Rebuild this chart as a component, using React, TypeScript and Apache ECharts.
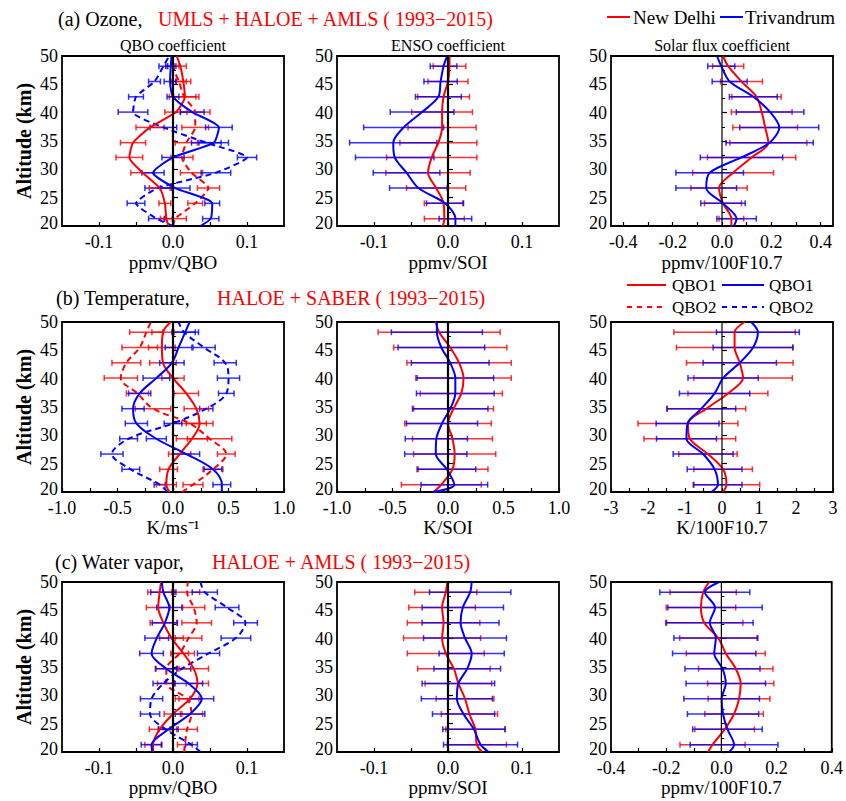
import React, { useEffect, useRef } from 'react';
import * as echarts from 'echarts';

const FONT = 'Liberation Serif, Times New Roman, serif';
const RED = '#ff0000';
const BLUE = '#0000ff';
const RED_ERR = 'rgba(255,0,0,0.8)';
const BLUE_ERR = 'rgba(0,0,255,0.8)';

// altitude levels (km); error bars are drawn at LEVELS[1..11]
const LEVELS = [20, 21.3, 24.0, 26.7, 29.4, 32.1, 34.7, 37.4, 40.1, 42.8, 45.5, 48.2, 50];

// ---------- (a) Ozone ----------
const O3_QBO_ND1 = [-0.006, -0.009, -0.011, -0.018, -0.041, -0.059, -0.054, -0.031, 0.004, 0.016, 0.014, 0.010, 0.005];
const O3_QBO_ND1_ERR = [0.008, 0.008, 0.014, 0.016, 0.018, 0.017, 0.019, 0.015, 0.015, 0.010, 0.008];
const O3_QBO_TV1 = [0.037, 0.051, 0.053, 0.003, -0.027, 0.000, 0.055, 0.062, 0.026, 0.000, -0.004, -0.003, -0.002];
const O3_QBO_TV1_ERR = [0.011, 0.010, 0.020, 0.015, 0.015, 0.020, 0.018, 0.016, 0.008, 0.008, 0.007];
const O3_QBO_ND2 = [0.000, 0.003, 0.030, 0.048, 0.025, 0.012, 0.018, 0.030, 0.030, 0.015, 0.008, 0.000, 0.000];
const O3_QBO_ND2_ERR = [0.015, 0.010, 0.015, 0.015, 0.015, 0.015, 0.018, 0.020, 0.020, 0.010, 0.008];
const O3_QBO_TV2 = [0.000, -0.022, -0.050, -0.020, 0.058, 0.100, 0.045, -0.013, -0.054, -0.050, -0.025, -0.013, -0.005];
const O3_QBO_TV2_ERR = [0.011, 0.012, 0.018, 0.020, 0.013, 0.020, 0.018, 0.020, 0.010, 0.008, 0.006];

const O3_ENSO_ND = [-0.007, -0.005, -0.006, -0.016, -0.027, -0.022, -0.013, -0.008, -0.008, -0.006, 0.000, 0.002, 0.002];
const O3_ENSO_ND_ERR = [0.027, 0.026, 0.040, 0.057, 0.061, 0.052, 0.046, 0.041, 0.035, 0.027, 0.022];
const O3_ENSO_TV = [0.010, 0.010, -0.004, -0.040, -0.056, -0.072, -0.074, -0.060, -0.035, -0.013, -0.010, -0.006, -0.001];
const O3_ENSO_TV_ERR = [0.022, 0.025, 0.039, 0.045, 0.053, 0.059, 0.054, 0.043, 0.031, 0.0225, 0.018];

const O3_SF_ND = [0.038, 0.038, 0.004, -0.012, 0.045, 0.120, 0.188, 0.175, 0.161, 0.140, 0.079, 0.025, 0.004];
const O3_SF_ND_ERR = [0.050, 0.075, 0.114, 0.164, 0.179, 0.156, 0.131, 0.123, 0.100, 0.085, 0.063];
const O3_SF_TV = [0.048, 0.059, 0.004, -0.064, -0.050, 0.079, 0.193, 0.232, 0.195, 0.127, 0.031, -0.003, -0.020];
const O3_SF_TV_ERR = [0.080, 0.090, 0.123, 0.137, 0.167, 0.177, 0.160, 0.137, 0.097, 0.071, 0.055];

// ---------- (b) Temperature ----------
const T_QBO_ND1 = [-0.03, -0.06, -0.04, 0.06, 0.17, 0.24, 0.21, 0.12, 0.0, -0.09, -0.10, -0.09, -0.02];
const T_QBO_ND1_ERR = [0.09, 0.08, 0.10, 0.14, 0.12, 0.11, 0.11, 0.10, 0.12, 0.12, 0.10];
const T_QBO_TV1 = [0.44, 0.44, 0.36, 0.12, -0.15, -0.33, -0.36, -0.30, -0.15, -0.01, 0.05, 0.11, 0.15];
const T_QBO_TV1_ERR = [0.08, 0.08, 0.12, 0.09, 0.10, 0.10, 0.10, 0.12, 0.11, 0.12, 0.12];
const T_QBO_ND2 = [0.08, 0.18, 0.36, 0.48, 0.33, 0.15, -0.18, -0.32, -0.47, -0.42, -0.30, -0.24, -0.20];
const T_QBO_ND2_ERR = [0.09, 0.09, 0.08, 0.20, 0.15, 0.16, 0.10, 0.15, 0.13, 0.16, 0.15];
const T_QBO_TV2 = [-0.05, -0.12, -0.38, -0.55, -0.40, 0.0, 0.30, 0.48, 0.50, 0.47, 0.28, 0.10, 0.05];
const T_QBO_TV2_ERR = [0.05, 0.08, 0.10, 0.08, 0.08, 0.06, 0.07, 0.10, 0.10, 0.10, 0.10];

const T_ENSO_ND = [-0.13, -0.06, 0.04, 0.06, 0.04, 0.0, 0.05, 0.12, 0.14, 0.10, 0.02, -0.08, -0.11];
const T_ENSO_ND_ERR = [0.36, 0.32, 0.37, 0.36, 0.39, 0.36, 0.37, 0.43, 0.47, 0.51, 0.55];
const T_ENSO_TV = [-0.135, 0.057, -0.01, -0.11, -0.105, -0.054, 0.02, 0.066, 0.066, 0.02, -0.06, -0.10, -0.10];
const T_ENSO_TV_ERR = [0.30, 0.26, 0.28, 0.28, 0.32, 0.34, 0.35, 0.345, 0.35, 0.39, 0.41];

const T_SF_ND = [0.03, 0.12, 0.03, -0.38, -0.87, -0.92, -0.42, 0.16, 0.57, 0.48, 0.34, 0.34, 0.61];
const T_SF_ND_ERR = [0.90, 0.79, 0.79, 1.24, 1.35, 1.06, 1.08, 1.33, 1.44, 1.57, 1.64];
const T_SF_TV = [-0.29, -0.11, -0.20, -0.51, -0.96, -0.93, -0.56, -0.20, 0.03, 0.48, 0.84, 0.97, 0.79];
const T_SF_TV_ERR = [0.65, 0.74, 0.81, 0.81, 0.85, 0.93, 0.95, 0.95, 0.99, 1.08, 1.12];

// ---------- (c) Water vapor ----------
const W_QBO_ND1 = [-0.027, -0.027, -0.018, 0.0, 0.023, 0.033, 0.028, 0.014, -0.002, -0.013, -0.020, -0.018, -0.016];
const W_QBO_ND1_ERR = [0.011, 0.014, 0.012, 0.015, 0.015, 0.020, 0.015, 0.016, 0.018, 0.016, 0.016];
const W_QBO_TV1 = [-0.028, -0.029, -0.006, 0.023, 0.039, 0.021, -0.009, -0.029, -0.022, -0.011, -0.005, -0.013, -0.015];
const W_QBO_TV1_ERR = [0.014, 0.013, 0.020, 0.016, 0.019, 0.014, 0.016, 0.016, 0.017, 0.017, 0.017];
const W_QBO_ND2 = [0.015, 0.016, 0.019, 0.025, 0.019, -0.009, -0.009, 0.009, 0.021, 0.032, 0.028, 0.019, 0.020];
const W_QBO_ND2_ERR = [0.010, 0.014, 0.015, 0.016, 0.012, 0.015, 0.012, 0.018, 0.020, 0.015, 0.017];
const W_QBO_TV2 = [0.037, 0.025, -0.010, -0.031, -0.029, -0.013, 0.012, 0.048, 0.085, 0.098, 0.073, 0.043, 0.037];
const W_QBO_TV2_ERR = [0.008, 0.010, 0.013, 0.015, 0.014, 0.012, 0.015, 0.020, 0.016, 0.016, 0.017];

const W_ENSO_ND = [0.046, 0.039, 0.037, 0.029, 0.023, 0.014, 0.008, -0.003, -0.008, -0.006, -0.008, -0.003, -0.001];
const W_ENSO_ND_ERR = [0.040, 0.040, 0.038, 0.039, 0.045, 0.049, 0.052, 0.052, 0.049, 0.045, 0.042];
const W_ENSO_TV = [0.055, 0.044, 0.035, 0.021, 0.012, 0.014, 0.026, 0.032, 0.023, 0.017, 0.020, 0.030, 0.032];
const W_ENSO_TV_ERR = [0.050, 0.042, 0.042, 0.048, 0.049, 0.045, 0.044, 0.056, 0.052, 0.055, 0.055];

const W_SF_ND = [-0.048, -0.032, 0.012, 0.046, 0.064, 0.070, 0.052, 0.016, -0.011, -0.062, -0.074, -0.066, -0.044];
const W_SF_ND_ERR = [0.118, 0.108, 0.106, 0.112, 0.120, 0.135, 0.143, 0.140, 0.140, 0.126, 0.120];
const W_SF_TV = [0.028, 0.046, 0.022, 0.006, 0.001, 0.016, 0.004, -0.026, -0.020, -0.042, -0.023, -0.060, -0.008];
const W_SF_TV_ERR = [0.159, 0.126, 0.129, 0.137, 0.144, 0.136, 0.151, 0.152, 0.157, 0.171, 0.163];

// ---------- axis tick labels ----------
const X_LABELS_SMALL = [-0.1, 0, 0.1];
const X_TICKS_SMALL = [-0.1, -0.05, 0, 0.05, 0.1];
const X_LABELS_04 = [-0.4, -0.2, 0, 0.2, 0.4];
const X_TICKS_04 = [-0.4, -0.3, -0.2, -0.1, 0, 0.1, 0.2, 0.3, 0.4];
const X_LABELS_1 = [-1, -0.5, 0, 0.5, 1];
const X_TICKS_1 = [-1, -0.75, -0.5, -0.25, 0, 0.25, 0.5, 0.75, 1];
const X_LABELS_3 = [-3, -2, -1, 0, 1, 2, 3];
const X_TICKS_3 = [-3, -2.5, -2, -1.5, -1, -0.5, 0, 0.5, 1, 1.5, 2, 2.5, 3];

const COL_LEFT = [62, 337, 611];
const ROW_TOP = [56, 322, 582];
const ROW_NAME_GAP = [27, 26, 24];
const PW = 222;
const PH = 170;
const TICK_FS = 18;

const fmt1 = (v: number) => v.toFixed(1);
const fmt0 = (v: number) => String(Math.round(v));

type Ser = { vals: number[]; err: number[]; color: string; errColor: string; dashed?: boolean };
type Panel = {
  row: number; col: number; min: number; max: number;
  labels: number[]; ticks: number[]; fmt: (v: number) => string;
  name: string; zeroW: number; smooth: number; series: Ser[];
};

const nd = (vals: number[], err: number[], dashed = false): Ser => ({ vals, err, color: RED, errColor: RED_ERR, dashed });
const tv = (vals: number[], err: number[], dashed = false): Ser => ({ vals, err, color: BLUE, errColor: BLUE_ERR, dashed });

const PANELS: Panel[] = [
  { row: 0, col: 0, min: -0.15, max: 0.15, labels: X_LABELS_SMALL, ticks: X_TICKS_SMALL, fmt: fmt1, name: 'ppmv/QBO', zeroW: 2.2, smooth: 0.2,
    series: [nd(O3_QBO_ND2, O3_QBO_ND2_ERR, true), tv(O3_QBO_TV2, O3_QBO_TV2_ERR, true), nd(O3_QBO_ND1, O3_QBO_ND1_ERR), tv(O3_QBO_TV1, O3_QBO_TV1_ERR)] },
  { row: 0, col: 1, min: -0.15, max: 0.15, labels: X_LABELS_SMALL, ticks: X_TICKS_SMALL, fmt: fmt1, name: 'ppmv/SOI', zeroW: 2.2, smooth: 0.3,
    series: [nd(O3_ENSO_ND, O3_ENSO_ND_ERR), tv(O3_ENSO_TV, O3_ENSO_TV_ERR)] },
  { row: 0, col: 2, min: -0.45, max: 0.45, labels: X_LABELS_04, ticks: X_TICKS_04, fmt: fmt1, name: 'ppmv/100F10.7', zeroW: 1.2, smooth: 0.3,
    series: [nd(O3_SF_ND, O3_SF_ND_ERR), tv(O3_SF_TV, O3_SF_TV_ERR)] },
  { row: 1, col: 0, min: -1, max: 1, labels: X_LABELS_1, ticks: X_TICKS_1, fmt: fmt1, name: 'K/ms⁻¹', zeroW: 2.2, smooth: 0.35,
    series: [nd(T_QBO_ND2, T_QBO_ND2_ERR, true), tv(T_QBO_TV2, T_QBO_TV2_ERR, true), nd(T_QBO_ND1, T_QBO_ND1_ERR), tv(T_QBO_TV1, T_QBO_TV1_ERR)] },
  { row: 1, col: 1, min: -1, max: 1, labels: X_LABELS_1, ticks: X_TICKS_1, fmt: fmt1, name: 'K/SOI', zeroW: 2.2, smooth: 0.3,
    series: [nd(T_ENSO_ND, T_ENSO_ND_ERR), tv(T_ENSO_TV, T_ENSO_TV_ERR)] },
  { row: 1, col: 2, min: -3, max: 3, labels: X_LABELS_3, ticks: X_TICKS_3, fmt: fmt0, name: 'K/100F10.7', zeroW: 1.2, smooth: 0.3,
    series: [nd(T_SF_ND, T_SF_ND_ERR), tv(T_SF_TV, T_SF_TV_ERR)] },
  { row: 2, col: 0, min: -0.15, max: 0.15, labels: X_LABELS_SMALL, ticks: X_TICKS_SMALL, fmt: fmt1, name: 'ppmv/QBO', zeroW: 2.2, smooth: 0.3,
    series: [nd(W_QBO_ND2, W_QBO_ND2_ERR, true), tv(W_QBO_TV2, W_QBO_TV2_ERR, true), nd(W_QBO_ND1, W_QBO_ND1_ERR), tv(W_QBO_TV1, W_QBO_TV1_ERR)] },
  { row: 2, col: 1, min: -0.15, max: 0.15, labels: X_LABELS_SMALL, ticks: X_TICKS_SMALL, fmt: fmt1, name: 'ppmv/SOI', zeroW: 2.2, smooth: 0.3,
    series: [nd(W_ENSO_ND, W_ENSO_ND_ERR), tv(W_ENSO_TV, W_ENSO_TV_ERR)] },
  { row: 2, col: 2, min: -0.4, max: 0.4, labels: X_LABELS_04, ticks: X_TICKS_04, fmt: fmt1, name: 'ppmv/100F10.7', zeroW: 1.2, smooth: 0.3,
    series: [nd(W_SF_ND, W_SF_ND_ERR), tv(W_SF_TV, W_SF_TV_ERR)] },
];

function errRender(color: string) {
  return (_params: any, api: any) => {
    const y = api.value(2);
    const a = api.coord([api.value(0), y]);
    const b = api.coord([api.value(1), y]);
    const c = 3;
    const st = { stroke: color, lineWidth: 1.5 };
    return {
      type: 'group',
      children: [
        { type: 'line', shape: { x1: a[0], y1: a[1], x2: b[0], y2: b[1] }, style: st },
        { type: 'line', shape: { x1: a[0], y1: a[1] - c, x2: a[0], y2: a[1] + c }, style: st },
        { type: 'line', shape: { x1: b[0], y1: b[1] - c, x2: b[0], y2: b[1] + c }, style: st },
      ],
    };
  };
}

function txt(x: number, y: number, text: string, o: any = {}) {
  const align = o.align || 'left';
  return {
    type: 'text', x, y, rotation: o.rot || 0, z: 10,
    style: {
      text, fill: o.color || '#000', fontFamily: FONT, fontSize: o.size || 19,
      fontWeight: o.bold ? 'bold' : 'normal',
      align, textAlign: align, verticalAlign: 'middle', textVerticalAlign: 'middle',
    },
  };
}
function seg(x1: number, x2: number, y: number, color: string, dashed = false) {
  return {
    type: 'line', z: 10, shape: { x1, y1: y, x2, y2: y },
    style: { stroke: color, lineWidth: 2, lineDash: dashed ? [5, 5] : null },
  };
}

function buildOption() {
  const grid: any[] = [];
  const xAxis: any[] = [];
  const yAxis: any[] = [];
  const series: any[] = [];
  PANELS.forEach((p, i) => {
    grid.push({ left: COL_LEFT[p.col], top: ROW_TOP[p.row], width: PW, height: PH, show: true, borderColor: '#000', borderWidth: 1.8 });
    xAxis.push({
      type: 'value', gridIndex: i, min: p.min, max: p.max,
      name: p.name, nameLocation: 'middle', nameGap: ROW_NAME_GAP[p.row],
      nameTextStyle: { fontFamily: FONT, fontSize: 19, color: '#000', verticalAlign: 'top' },
      axisLine: { show: false },
      axisTick: { show: true, inside: true, length: 4, customValues: p.ticks, lineStyle: { color: '#000', width: 1.2 } },
      axisLabel: { customValues: p.labels, formatter: p.fmt, fontFamily: FONT, fontSize: TICK_FS, color: '#000', margin: 7 },
      splitLine: { show: false },
    });
    yAxis.push({
      type: 'value', gridIndex: i, min: 20, max: 50, interval: 5,
      axisLine: { show: false },
      axisTick: { show: true, inside: true, length: 5, lineStyle: { color: '#000', width: 1.2 } },
      minorTick: { show: true, splitNumber: 2, length: 3, lineStyle: { color: '#000', width: 1 } },
      axisLabel: {
        fontFamily: FONT, fontSize: TICK_FS, color: '#000', margin: 4,
        formatter: (v: number) => (v === 20 ? '{lo|20}' : String(v)),
        rich: { lo: { fontFamily: FONT, fontSize: TICK_FS, color: '#000', padding: [0, 0, 6, 0] } },
      },
      splitLine: { show: false },
      minorSplitLine: { show: false },
    });
    p.series.forEach((s) => {
      series.push({
        type: 'custom', xAxisIndex: i, yAxisIndex: i, renderItem: errRender(s.errColor),
        encode: { x: [0, 1], y: 2 }, silent: true,
        data: s.err.map((e, k) => [s.vals[k + 1] - e, s.vals[k + 1] + e, LEVELS[k + 1]]),
      });
    });
    p.series.forEach((s) => {
      series.push({
        type: 'line', xAxisIndex: i, yAxisIndex: i, symbol: 'none', smooth: p.smooth, silent: true,
        lineStyle: { color: s.color, width: 2, type: s.dashed ? [6, 4] : 'solid' },
        data: LEVELS.map((a, k) => [s.vals[k], a]),
      });
    });
    series.push({
      type: 'line', xAxisIndex: i, yAxisIndex: i, symbol: 'none', silent: true, z: 4,
      lineStyle: { color: '#000', width: p.zeroW },
      data: [[0, 20], [0, 50]],
    });
  });

  const graphic: any[] = [
    txt(58, 19, '(a) Ozone,', { size: 20 }),
    txt(158, 19, 'UMLS + HALOE + AMLS ( 1993−2015)', { size: 20, color: RED }),
    txt(56, 298, '(b) Temperature,', { size: 20 }),
    txt(217, 298, 'HALOE + SABER ( 1993−2015)', { size: 20, color: RED }),
    txt(55, 562, '(c) Water vapor,', { size: 20 }),
    txt(212, 562, 'HALOE + AMLS ( 1993−2015)', { size: 20, color: RED }),
    txt(173, 45, 'QBO coefficient', { size: 16, align: 'center' }),
    txt(448, 45, 'ENSO coefficient', { size: 16, align: 'center' }),
    txt(722, 45, 'Solar flux coefficient', { size: 16, align: 'center' }),
    seg(607, 630, 17, RED), txt(633, 17, 'New Delhi', { size: 19 }),
    seg(720, 743, 17, BLUE), txt(745, 17, 'Trivandrum', { size: 19 }),
    seg(627, 666, 285, RED), txt(672, 285, 'QBO1', { size: 17 }),
    seg(722, 764, 285, BLUE), txt(769, 285, 'QBO1', { size: 17 }),
    seg(627, 666, 307, RED, true), txt(672, 307, 'QBO2', { size: 17 }),
    seg(722, 764, 307, BLUE, true), txt(769, 307, 'QBO2', { size: 17 }),
  ];
  ROW_TOP.forEach((t) => {
    graphic.push(txt(24, t + PH / 2, 'Altitude (km)', { size: 20, bold: true, align: 'center', rot: Math.PI / 2 }));
  });

  return { animation: false, backgroundColor: '#fff', grid, xAxis, yAxis, series, graphic };
}

export default function App() {
  const ref = useRef<HTMLDivElement>(null);
  useEffect(() => {
    if (!ref.current) return;
    const chart = echarts.init(ref.current, undefined, { renderer: 'svg' });
    chart.setOption(buildOption() as any);
    return () => chart.dispose();
  }, []);
  return <div ref={ref} style={{ position: 'fixed', left: 0, top: 0, width: 846, height: 801, background: '#fff' }} />;
}
